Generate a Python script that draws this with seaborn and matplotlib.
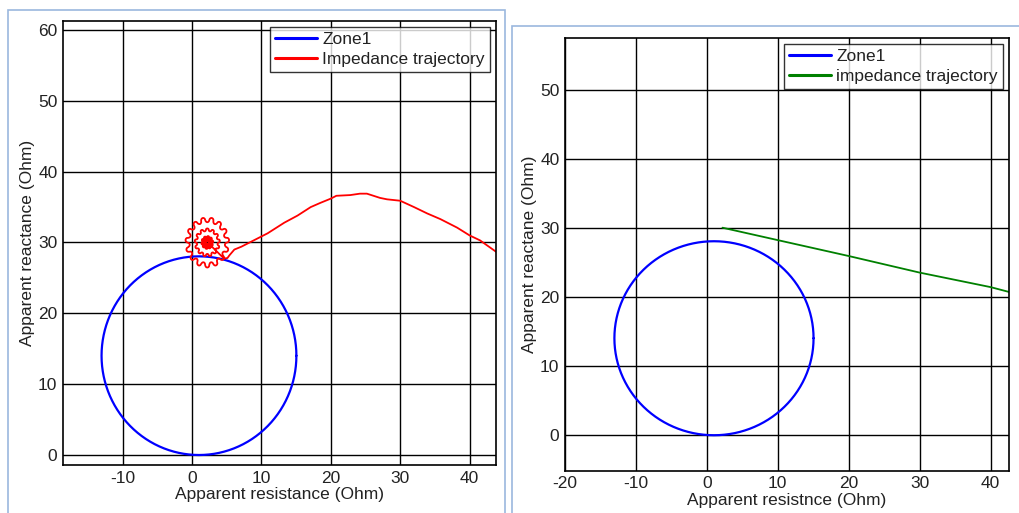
import numpy as np
import pandas as pd
import matplotlib
matplotlib.use("Agg")
import matplotlib.pyplot as plt
import seaborn as sns
from matplotlib.patches import Rectangle

# Zone1 mho circle (center and radius)
zone_center = (1.0, 14.0)
zone_radius = 14.04

# Left panel: impedance trajectory coming in from the load point
traj_x = [44.5, 43.8, 41.5, 40.0, 38.2, 35.8, 33.9, 32.0, 30.0, 28.1, 27.1, 25.2,
          24.2, 22.8, 20.8, 20.0, 18.5, 17.1, 15.2, 13.3, 10.9, 8.5, 7.1, 6.1, 5.4, 5.1]
traj_y = [28.3, 28.7, 30.3, 31.0, 32.1, 33.3, 34.1, 35.0, 35.9, 36.1, 36.3, 36.9,
          36.9, 36.7, 36.6, 36.2, 35.6, 35.0, 33.8, 32.8, 31.3, 30.1, 29.4, 29.0, 28.2, 27.8]

# oscillation rings around the fault point: (rx, ry, tooth size, teeth)
fault_point = (2.2, 30.0)
ring_rx = [2.85, 1.65, 0.8, 0.6, 0.4, 0.2]
ring_ry = [3.2, 1.8, 0.85, 0.65, 0.45, 0.22]
ring_tooth = [0.3, 0.17, 0.06, 0.04, 0.02, 0.0]
ring_teeth = [15, 13, 10, 10, 8, 6]

# Right panel: impedance trajectory
traj2_x = [2.2, 10.0, 20.0, 30.0, 40.0, 42.6]
traj2_y = [30.0, 28.2, 25.9, 23.5, 21.4, 20.7]


def circle_frame(center, r):
    t = np.linspace(0, 2 * np.pi, 361)
    return pd.DataFrame({"x": center[0] + r * np.cos(t),
                         "y": center[1] + r * np.sin(t)})


def fault_swirl():
    xs, ys = [], []
    for rx, ry, a, n in zip(ring_rx, ring_ry, ring_tooth, ring_teeth):
        t = np.linspace(-0.7, -0.7 + 2 * np.pi, 240)
        k = 1 + a / rx * np.sign(np.sin(n * t)) * np.abs(np.sin(n * t)) ** 0.5
        xs.extend(fault_point[0] + rx * k * np.cos(t))
        ys.extend(fault_point[1] + ry * k * np.sin(t))
    return xs, ys


sns.set_style("white")
plt.rcParams["font.family"] = ["Liberation Sans", "DejaVu Sans"]
plt.rcParams["axes.unicode_minus"] = False

fig = plt.figure(figsize=(10.19, 5.13), dpi=100)

# panel borders
fig.patches.append(Rectangle((8 / 1019, -0.05), 497 / 1019, 1.05 - 10 / 513,
                             transform=fig.transFigure, fill=False,
                             edgecolor="#9bb8de", lw=1.2))
fig.patches.append(Rectangle((512 / 1019, -0.05), 520 / 1019, 1.05 - 26 / 513,
                             transform=fig.transFigure, fill=False,
                             edgecolor="#9bb8de", lw=1.2))

zone = circle_frame(zone_center, zone_radius)
sx, sy = fault_swirl()
left_traj = pd.DataFrame({"x": traj_x + sx, "y": traj_y + sy})
right_traj = pd.DataFrame({"x": traj2_x, "y": traj2_y})

ax1 = fig.add_axes([0.0618, 0.0936, 0.4249, 0.8654])
ax2 = fig.add_axes([0.5545, 0.0825, 0.4357, 0.8440])

sns.lineplot(data=zone, x="x", y="y", sort=False, estimator=None, ax=ax1,
             color="#0000ff", lw=1.6, label="Zone1")
sns.lineplot(data=left_traj, x="x", y="y", sort=False, estimator=None, ax=ax1,
             color="#ff0000", lw=1.3, label="Impedance trajectory")

sns.lineplot(data=zone, x="x", y="y", sort=False, estimator=None, ax=ax2,
             color="#0000ff", lw=1.6, label="Zone1")
sns.lineplot(data=right_traj, x="x", y="y", sort=False, estimator=None, ax=ax2,
             color="#008000", lw=1.3, label="impedance trajectory")

ax1.set_xlim(-18.6, 43.8)
ax1.set_ylim(-1.45, 61.3)
ax1.set_xticks(range(-10, 41, 10))
ax1.set_yticks(range(0, 61, 10))
ax1.set_xlabel("Apparent resistance (Ohm)")
ax1.set_ylabel("Apparent reactance (Ohm)")

ax2.set_xlim(-20, 42.6)
ax2.set_ylim(-5.17, 57.5)
ax2.set_xticks(range(-20, 41, 10))
ax2.set_yticks(range(0, 51, 10))
ax2.set_xlabel("Apparent resistnce (Ohm)")
ax2.set_ylabel("Apparent reactane (Ohm)")

for ax in (ax1, ax2):
    ax.grid(True, color="black", lw=1.0)
    ax.set_axisbelow(True)
    for s in ax.spines.values():
        s.set_color("black")
        s.set_linewidth(1.2)
    ax.tick_params(length=0, pad=4, labelsize=12.5, colors="#222222")
    ax.xaxis.label.set_size(12.5)
    ax.yaxis.label.set_size(12.5)
    ax.xaxis.label.set_color("#222222")
    ax.yaxis.label.set_color("#222222")
    ax.xaxis.labelpad = 1
    ax.yaxis.labelpad = 2
    leg = ax.legend(loc="upper right", fontsize=12.5, frameon=True, fancybox=False,
                    borderaxespad=0.35, handlelength=2.4, handletextpad=0.3,
                    labelspacing=0.25, borderpad=0.3)
    leg.get_frame().set_edgecolor("black")
    leg.get_frame().set_linewidth(1.0)
    for text in leg.get_texts():
        text.set_color("#222222")
    for line in leg.get_lines():
        line.set_linewidth(2.2)

fig.savefig("out.png", dpi=100)
